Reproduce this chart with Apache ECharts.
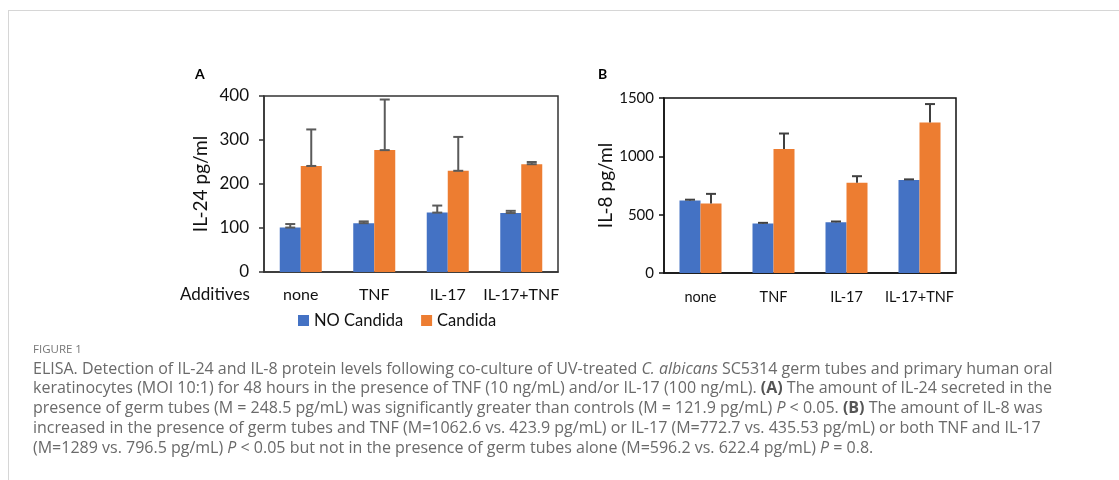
<!DOCTYPE html>
<html>
<head>
<meta charset="utf-8">
<script src="https://cdn.jsdelivr.net/npm/echarts@6/dist/echarts.min.js"></script>
<style>
html,body{margin:0;padding:0;background:#fff;}
#frame{position:absolute;left:8px;top:10px;width:1111px;height:470px;border-left:1px solid #d6d6d6;border-top:1px solid #d6d6d6;box-sizing:border-box;}
#chart{position:absolute;left:0;top:0;width:1119px;height:480px;}
</style>
</head>
<body>
<div id="frame"></div>
<div id="chart"></div>
<script>
// ---- data ----
const categories = ['none', 'TNF', 'IL-17', 'IL-17+TNF'];
const seriesNames = ['NO Candida', 'Candida'];
// Panel A: IL-24 pg/ml
const il24NoCandida = [101, 111, 135, 134];
const il24NoCandidaErr = [8, 4, 16, 5];
const il24Candida = [241, 277, 230, 245];
const il24CandidaErr = [83, 115, 77, 5];
const il24Ticks = [0, 100, 200, 300, 400];
// Panel B: IL-8 pg/ml
const il8NoCandida = [622.4, 423.9, 435.5, 796.5];
const il8NoCandidaErr = [6, 6, 6, 6];
const il8Candida = [596.2, 1062.6, 772.7, 1289];
const il8CandidaErr = [82, 133, 57, 159];
const il8Ticks = [0, 500, 1000, 1500];
// caption
const figureLabel = 'FIGURE 1';
const captionLines = [
  [['n', 'ELISA. Detection of IL-24 and IL-8 protein levels following co-culture of UV-treated '], ['i', 'C. albicans'], ['n', ' SC5314 germ tubes and primary human oral']],
  [['n', 'keratinocytes (MOI 10:1) for 48 hours in the presence of TNF (10 ng/mL) and/or IL-17 (100 ng/mL). '], ['b', '(A)'], ['n', ' The amount of IL-24 secreted in the']],
  [['n', 'presence of germ tubes (M = 248.5 pg/mL) was significantly greater than controls (M = 121.9 pg/mL) '], ['i', 'P'], ['n', ' < 0.05. '], ['b', '(B)'], ['n', ' The amount of IL-8 was']],
  [['n', 'increased in the presence of germ tubes and TNF (M=1062.6 vs. 423.9 pg/mL) or IL-17 (M=772.7 vs. 435.53 pg/mL) or both TNF and IL-17']],
  [['n', '(M=1289 vs. 796.5 pg/mL) '], ['i', 'P'], ['n', ' < 0.05 but not in the presence of germ tubes alone (M=596.2 vs. 622.4 pg/mL) '], ['i', 'P'], ['n', ' = 0.8.']]
];

// ---- chart ----
const BLUE = '#4472C4', ORANGE = '#ED7D31';
const FONT = 'Lato';
const CAPFONT = 'Open Sans';
const CAPSIZE = 16;
const BW = 21;

function errSeries(gridIdx, vals, errs, offset, color, bothCaps) {
  return {
    type: 'custom',
    xAxisIndex: gridIdx, yAxisIndex: gridIdx,
    z: 5,
    silent: true,
    data: vals.map((v, i) => [i, v, errs[i]]),
    encode: { x: 0, y: 1 },
    renderItem: function (params, api) {
      const c = api.value(0), v = api.value(1), e = api.value(2);
      const b = api.coord([c, v]);
      const t = api.coord([c, v + e]);
      const x = b[0] + offset;
      const hw = 5;
      const st = { stroke: color, lineWidth: 2 };
      const ch = [
        { type: 'line', shape: { x1: x, y1: b[1], x2: x, y2: t[1] }, style: st },
        { type: 'line', shape: { x1: x - hw, y1: t[1], x2: x + hw, y2: t[1] }, style: st }
      ];
      if (bothCaps) ch.push({ type: 'line', shape: { x1: x - hw, y1: b[1], x2: x + hw, y2: b[1] }, style: st });
      return { type: 'group', children: ch };
    }
  };
}

const captionGraphics = [{
  type: 'text', left: 33, top: 344,
  style: { text: figureLabel, fontFamily: CAPFONT, fontSize: 11.5, fill: '#777' }
}];
captionLines.forEach((line, k) => {
  captionGraphics.push({
    type: 'text', left: 33, top: 361 + k * 19.9,
    style: {
      text: line.map(s => '{' + s[0] + '|' + s[1] + '}').join(''),
      rich: {
        n: { fontFamily: CAPFONT, fontSize: CAPSIZE, fill: '#6a6a6a' },
        i: { fontFamily: CAPFONT, fontSize: CAPSIZE, fill: '#6a6a6a', fontStyle: 'italic' },
        b: { fontFamily: CAPFONT, fontSize: CAPSIZE, fill: '#555', fontWeight: 'bold' }
      }
    }
  });
});

const option = {
  animation: false,
  textStyle: { fontFamily: FONT },
  grid: [
    { left: 264, top: 96, right: 561, bottom: 208, show: true, borderColor: '#333', borderWidth: 1.5, backgroundColor: 'transparent' },
    { left: 664, top: 98, right: 163, bottom: 207, show: true, borderColor: '#111', borderWidth: 1.5, backgroundColor: 'transparent' }
  ],
  legend: {
    data: seriesNames, left: 298, top: 312, icon: 'rect', itemWidth: 11, itemHeight: 11, itemGap: 18,
    textStyle: { fontFamily: FONT, fontSize: 16.5, color: '#111' }, padding: 0
  },
  xAxis: [
    { type: 'category', gridIndex: 0, data: categories, axisLine: { lineStyle: { color: '#333', width: 1.5 } }, axisTick: { show: false },
      axisLabel: { interval: 0, color: '#111', fontSize: 16, margin: 15, fontFamily: FONT } },
    { type: 'category', gridIndex: 1, data: categories, axisLine: { lineStyle: { color: '#111', width: 1.5 } }, axisTick: { show: false },
      axisLabel: { interval: 0, color: '#111', fontSize: 14.5, margin: 17, fontFamily: FONT } }
  ],
  yAxis: [
    { type: 'value', gridIndex: 0, min: il24Ticks[0], max: il24Ticks[il24Ticks.length - 1], interval: il24Ticks[1] - il24Ticks[0],
      name: 'IL-24 pg/ml', nameLocation: 'middle', nameGap: 54, nameTextStyle: { fontSize: 19, color: '#111', fontFamily: FONT },
      axisLine: { show: true, lineStyle: { color: '#333', width: 1.5 } }, axisTick: { show: true, length: 5, lineStyle: { color: '#333', width: 1.5 } },
      splitLine: { show: false }, axisLabel: { color: '#111', fontSize: 17, margin: 15, fontFamily: FONT, formatter: v => String(v) } },
    { type: 'value', gridIndex: 1, min: il8Ticks[0], max: il8Ticks[il8Ticks.length - 1], interval: il8Ticks[1] - il8Ticks[0],
      name: 'IL-8 pg/ml', nameLocation: 'middle', nameGap: 46, nameTextStyle: { fontSize: 19, color: '#111', fontFamily: FONT },
      axisLine: { show: true, lineStyle: { color: '#111', width: 1.5 } }, axisTick: { show: true, length: 5, lineStyle: { color: '#111', width: 1.5 } },
      splitLine: { show: false }, axisLabel: { color: '#111', fontSize: 15, margin: 10, fontFamily: FONT, formatter: v => String(v) } }
  ],
  series: [
    { name: seriesNames[0], type: 'bar', xAxisIndex: 0, yAxisIndex: 0, data: il24NoCandida, barWidth: BW, barGap: '0%', itemStyle: { color: BLUE } },
    { name: seriesNames[1], type: 'bar', xAxisIndex: 0, yAxisIndex: 0, data: il24Candida, barWidth: BW, barGap: '0%', itemStyle: { color: ORANGE } },
    { name: seriesNames[0], type: 'bar', xAxisIndex: 1, yAxisIndex: 1, data: il8NoCandida, barWidth: BW, barGap: '0%', itemStyle: { color: BLUE } },
    { name: seriesNames[1], type: 'bar', xAxisIndex: 1, yAxisIndex: 1, data: il8Candida, barWidth: BW, barGap: '0%', itemStyle: { color: ORANGE } },
    errSeries(0, il24NoCandida, il24NoCandidaErr, -BW / 2, '#5a5a5a', true),
    errSeries(0, il24Candida, il24CandidaErr, BW / 2, '#5a5a5a', true),
    errSeries(1, il8NoCandida, il8NoCandidaErr, -BW / 2, '#404040', false),
    errSeries(1, il8Candida, il8CandidaErr, BW / 2, '#404040', false)
  ],
  graphic: [
    { type: 'text', left: 195, top: 67, style: { text: 'A', fontFamily: FONT, fontSize: 14, fontWeight: 'bold', fill: '#000' } },
    { type: 'text', left: 598, top: 67, style: { text: 'B', fontFamily: FONT, fontSize: 14, fontWeight: 'bold', fill: '#000' } },
    { type: 'text', left: 180, top: 286, style: { text: 'Additives', fontFamily: FONT, fontSize: 17, fill: '#111' } }
  ].concat(captionGraphics)
};

const chart = echarts.init(document.getElementById('chart'), null, { renderer: 'canvas' });
chart.setOption(option);
</script>
</body>
</html>
